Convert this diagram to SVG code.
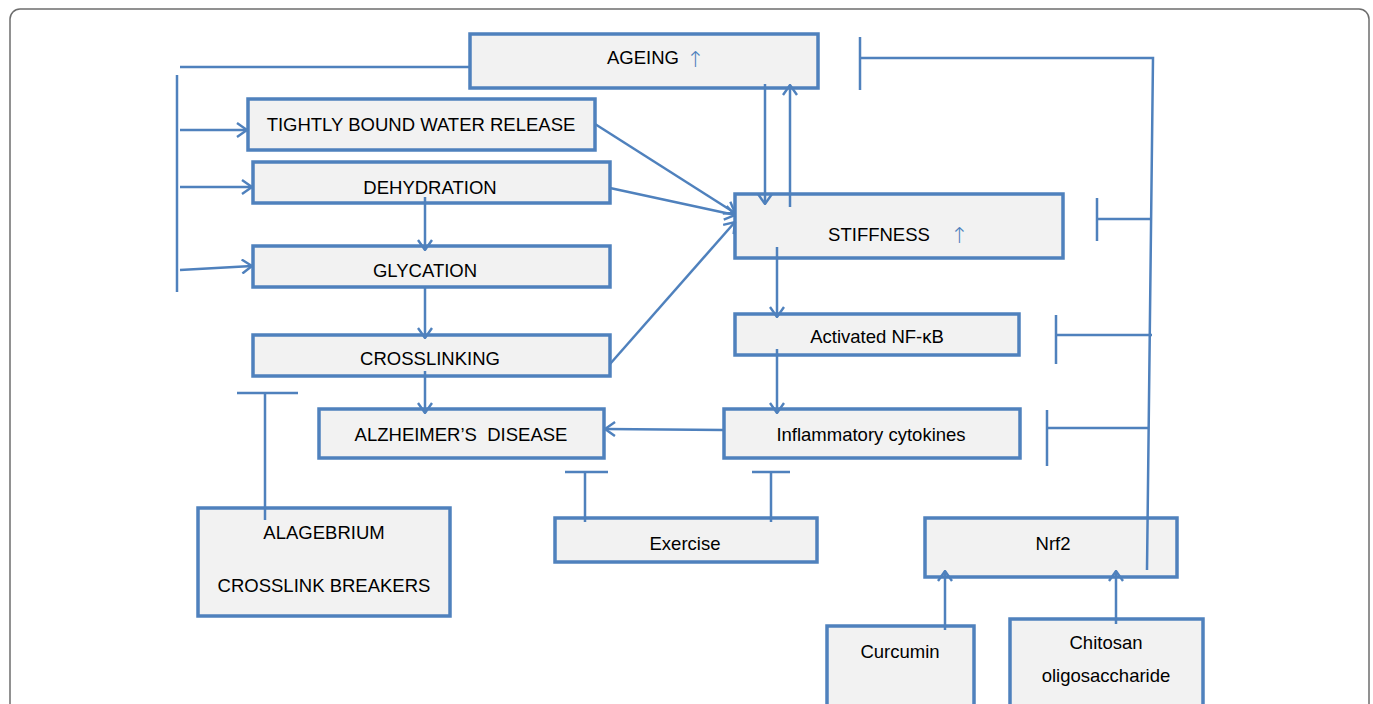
<svg xmlns="http://www.w3.org/2000/svg" width="1373" height="704" viewBox="0 0 1373 704">
<defs>
<style>
.box{fill:#f2f2f2;stroke:#4f81bd;stroke-width:3.5}
.t{font-family:"Liberation Sans",Arial,sans-serif;font-size:18.5px;fill:#000;text-anchor:middle}
.c{fill:none;stroke:#4f81bd;stroke-width:2.5}
.up{fill:#4f81bd;font-family:"DejaVu Sans",sans-serif;font-size:22px}
</style>
<marker id="ah" viewBox="0 0 12 16" refX="11" refY="8" markerWidth="12" markerHeight="16" markerUnits="userSpaceOnUse" orient="auto">
<path d="M1,1 L11,8 L1,15" fill="none" stroke="#4f81bd" stroke-width="2.4"/>
</marker>
</defs>
<rect x="10" y="9" width="1359" height="720" rx="10" fill="#fff" stroke="#6d6d6d" stroke-width="1.5"/>
<g id="ageing"><rect class="box" x="470" y="34" width="348" height="54"/><text class="t" x="643" y="64">AGEING</text><text class="up" x="686" y="67" style="font-weight:200">↑</text></g>
<g id="water"><rect class="box" x="248" y="99" width="347" height="51"/><text class="t" x="421" y="131">TIGHTLY BOUND WATER RELEASE</text></g>
<g id="dehydration"><rect class="box" x="253" y="162" width="357" height="41"/><text class="t" x="430" y="194">DEHYDRATION</text></g>
<g id="glycation"><rect class="box" x="253" y="246" width="357" height="41"/><text class="t" x="425" y="277">GLYCATION</text></g>
<g id="crosslinking"><rect class="box" x="253" y="335" width="357" height="41"/><text class="t" x="430" y="365">CROSSLINKING</text></g>
<g id="alzheimer"><rect class="box" x="319" y="409" width="285" height="49"/><text class="t" x="461" y="441" xml:space="preserve">ALZHEIMER’S  DISEASE</text></g>
<g id="stiffness"><rect class="box" x="735" y="194" width="328" height="64"/><text class="t" x="879" y="241">STIFFNESS</text><text class="up" x="950" y="243" style="font-weight:200">↑</text></g>
<g id="nfkb"><rect class="box" x="735" y="314" width="284" height="41"/><text class="t" x="877" y="343">Activated NF-κB</text></g>
<g id="cytokines"><rect class="box" x="724" y="409" width="296" height="49"/><text class="t" x="871" y="441">Inflammatory cytokines</text></g>
<g id="alagebrium"><rect class="box" x="198" y="508" width="252" height="108"/><text class="t" x="324" y="539">ALAGEBRIUM</text><text class="t" x="324" y="592">CROSSLINK BREAKERS</text></g>
<g id="exercise"><rect class="box" x="555" y="518" width="262" height="44"/><text class="t" x="685" y="550">Exercise</text></g>
<g id="nrf2"><rect class="box" x="925" y="518" width="252" height="59"/><text class="t" x="1053" y="550">Nrf2</text></g>
<g id="curcumin"><rect class="box" x="827" y="626" width="147" height="90"/><text class="t" x="900" y="658">Curcumin</text></g>
<g id="chitosan"><rect class="box" x="1010" y="619" width="193" height="97"/><text class="t" x="1106" y="649">Chitosan</text><text class="t" x="1106" y="682">oligosaccharide</text></g>
<g id="connectors">
<path class="c" d="M470,67 H180"/>
<path class="c" d="M177,75 V292"/>
<path class="c" d="M180,130 H247" marker-end="url(#ah)"/>
<path class="c" d="M180,187 H252" marker-end="url(#ah)"/>
<path class="c" d="M180,270 L252,266" marker-end="url(#ah)"/>
<path class="c" d="M765,84 V204" marker-end="url(#ah)"/>
<path class="c" d="M790,207 V85" marker-end="url(#ah)"/>
<path class="c" d="M595,124 L735,213" marker-end="url(#ah)"/>
<path class="c" d="M610,188 L735,215" marker-end="url(#ah)"/>
<path class="c" d="M610,364 L735,222" marker-end="url(#ah)"/>
<path class="c" d="M425,197 V250" marker-end="url(#ah)"/>
<path class="c" d="M425,287 V338" marker-end="url(#ah)"/>
<path class="c" d="M425,371 V413" marker-end="url(#ah)"/>
<path class="c" d="M777,247 V317" marker-end="url(#ah)"/>
<path class="c" d="M777,349 V413" marker-end="url(#ah)"/>
<path class="c" d="M724,430 L605,429" marker-end="url(#ah)"/>
<path class="c" d="M265,520 V393 M237,393 H298"/>
<path class="c" d="M585,522 V472 M565,472 H608"/>
<path class="c" d="M771,522 V472 M752,472 H790"/>
<path class="c" d="M1147,570 L1153,58 H860 M860,37 V90"/>
<path class="c" d="M1151,219 H1097 M1097,198 V241"/>
<path class="c" d="M1152,335 H1056 M1056,315 V364"/>
<path class="c" d="M1148,428 H1047 M1047,410 V466"/>
<path class="c" d="M945,630 V571" marker-end="url(#ah)"/>
<path class="c" d="M1116,624 V571" marker-end="url(#ah)"/>
</g>
</svg>
